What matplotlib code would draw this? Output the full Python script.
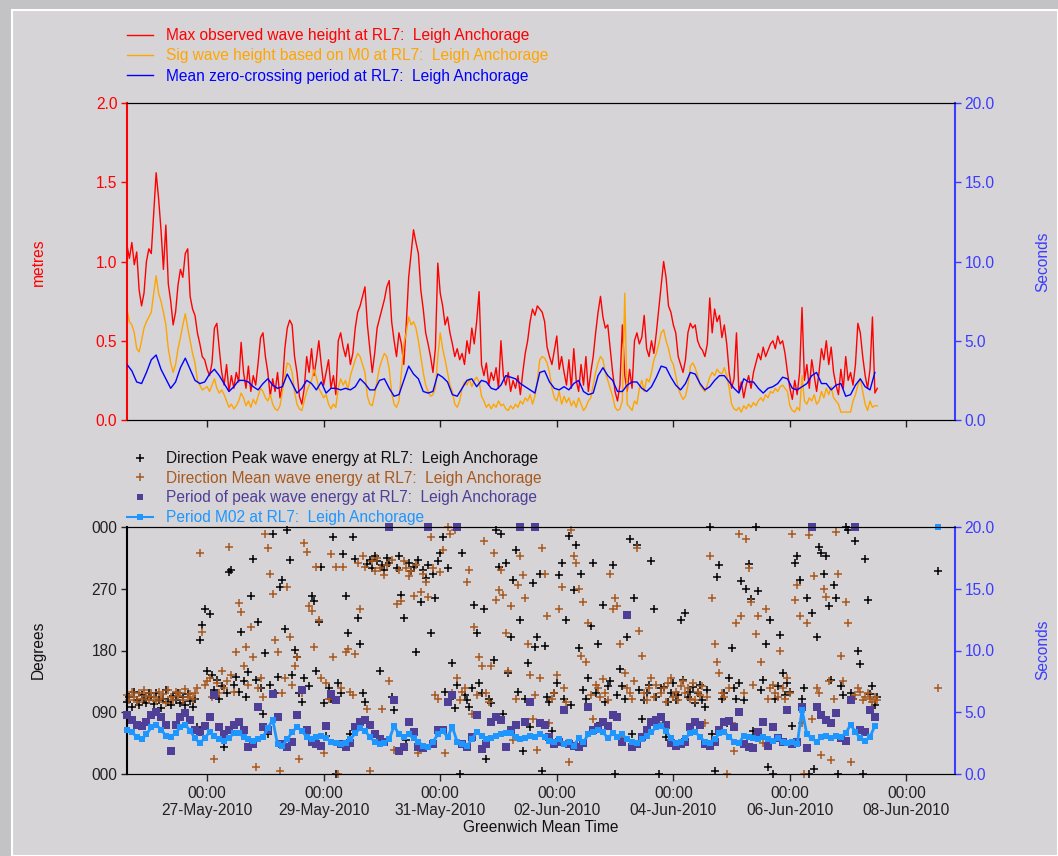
import numpy as np
import pandas as pd
import matplotlib
matplotlib.use('Agg')
import matplotlib.pyplot as plt
from matplotlib.lines import Line2D
from matplotlib.patches import Rectangle

plt.rcParams['font.family'] = ['Liberation Sans', 'DejaVu Sans']
plt.rcParams['font.size'] = 11.2

BG = '#d6d4d7'
RED = '#ff0000'
ORANGE = '#ffa500'
BLUE = '#0000ff'
RBLUE = '#3c3cff'
BROWN = '#a8591f'
PURPLE = '#4f3f96'
LBLUE = '#1e96ff'

# hourly / 2-hourly records starting 25-May-2010 15:00 GMT
start = '2010-05-25 15:00'
t_1h = pd.date_range(start, periods=310, freq='h')
t_2h = pd.date_range(start, periods=155, freq='2h')

# Max observed wave height (m), hourly
hmax = [
    1.10, 1.02, 1.12, 0.98, 1.06, 0.82, 0.72, 0.80, 1.00, 1.08,
    1.05, 1.30, 1.56, 1.40, 1.20, 0.95, 1.23, 0.86, 0.75, 0.60,
    0.68, 0.85, 0.95, 0.90, 1.05, 1.08, 0.78, 0.70, 0.66, 0.55,
    0.48, 0.40, 0.38, 0.32, 0.28, 0.36, 0.58, 0.61, 0.45, 0.30,
    0.22, 0.35, 0.18, 0.28, 0.20, 0.30, 0.24, 0.49, 0.30, 0.20,
    0.34, 0.18, 0.28, 0.22, 0.36, 0.52, 0.55, 0.40, 0.30, 0.15,
    0.26, 0.18, 0.30, 0.14, 0.22, 0.45, 0.58, 0.63, 0.60, 0.40,
    0.30, 0.15, 0.10, 0.20, 0.40, 0.30, 0.45, 0.28, 0.38, 0.50,
    0.35, 0.22, 0.30, 0.38, 0.20, 0.28, 0.16, 0.50, 0.55, 0.46,
    0.40, 0.48, 0.35, 0.42, 0.58, 0.68, 0.72, 0.78, 0.84, 0.60,
    0.45, 0.30, 0.42, 0.58, 0.64, 0.70, 0.76, 0.84, 0.88, 0.62,
    0.50, 0.40, 0.55, 0.48, 0.35, 0.60, 0.90, 1.05, 1.20, 1.12,
    1.05, 0.82, 0.70, 0.55, 0.48, 0.40, 0.30, 0.45, 0.99, 0.80,
    0.72, 0.60, 0.65, 0.55, 0.48, 0.40, 0.45, 0.38, 0.42, 0.35,
    0.50, 0.42, 0.58, 0.48, 0.62, 0.81, 0.35, 0.28, 0.36, 0.22,
    0.30, 0.25, 0.33, 0.20, 0.50, 0.28, 0.22, 0.30, 0.18, 0.25,
    0.20, 0.28, 0.16, 0.30, 0.42, 0.50, 0.62, 0.70, 0.66, 0.72,
    0.70, 0.68, 0.62, 0.46, 0.40, 0.35, 0.44, 0.53, 0.32, 0.40,
    0.30, 0.22, 0.38, 0.20, 0.45, 0.25, 0.18, 0.35, 0.22, 0.40,
    0.18, 0.30, 0.40, 0.55, 0.68, 0.78, 0.65, 0.58, 0.60, 0.45,
    0.30, 0.18, 0.12, 0.22, 0.60, 0.28, 0.18, 0.32, 0.20, 0.50,
    0.55, 0.48, 0.52, 0.66, 0.45, 0.40, 0.50, 0.42, 0.55, 0.70,
    0.85, 1.00, 0.90, 0.72, 0.68, 0.60, 0.55, 0.40, 0.35, 0.30,
    0.38, 0.55, 0.61, 0.58, 0.60, 0.50, 0.46, 0.44, 0.40, 0.48,
    0.77, 0.55, 0.70, 0.62, 0.66, 0.52, 0.60, 0.48, 0.30, 0.20,
    0.26, 0.55, 0.18, 0.24, 0.14, 0.22, 0.28, 0.20, 0.30, 0.36,
    0.42, 0.38, 0.46, 0.40, 0.44, 0.48, 0.50, 0.45, 0.53, 0.48,
    0.50, 0.42, 0.30, 0.20, 0.13, 0.25, 0.16, 0.30, 0.71, 0.25,
    0.35, 0.20, 0.38, 0.28, 0.18, 0.30, 0.45, 0.38, 0.50, 0.35,
    0.46, 0.30, 0.22, 0.16, 0.32, 0.20, 0.40, 0.25, 0.30, 0.22,
    0.35, 0.61, 0.55, 0.40, 0.28, 0.20, 0.32, 0.65, 0.17, 0.20,
]

# Sig wave height from M0 (m), hourly
hsig = [
    0.70, 0.62, 0.60, 0.55, 0.45, 0.43, 0.50, 0.58, 0.62, 0.65,
    0.68, 0.80, 0.91, 0.80, 0.75, 0.68, 0.60, 0.45, 0.36, 0.30,
    0.35, 0.45, 0.52, 0.60, 0.67, 0.58, 0.50, 0.42, 0.36, 0.25,
    0.22, 0.19, 0.20, 0.21, 0.18, 0.22, 0.26, 0.20, 0.17, 0.19,
    0.16, 0.12, 0.08, 0.10, 0.07, 0.09, 0.12, 0.17, 0.14, 0.09,
    0.12, 0.08, 0.13, 0.10, 0.15, 0.20, 0.18, 0.14, 0.12, 0.16,
    0.10, 0.07, 0.06, 0.09, 0.18, 0.28, 0.36, 0.35, 0.30, 0.18,
    0.10, 0.07, 0.06, 0.12, 0.18, 0.22, 0.25, 0.32, 0.27, 0.20,
    0.17, 0.14, 0.16, 0.10, 0.07, 0.10, 0.08, 0.20, 0.26, 0.22,
    0.25, 0.19, 0.28, 0.33, 0.38, 0.42, 0.40, 0.35, 0.30, 0.15,
    0.10, 0.09, 0.16, 0.25, 0.33, 0.38, 0.42, 0.40, 0.32, 0.17,
    0.10, 0.08, 0.12, 0.30, 0.48, 0.55, 0.65, 0.60, 0.62, 0.58,
    0.50, 0.40, 0.30, 0.22, 0.18, 0.15, 0.16, 0.20, 0.40, 0.55,
    0.45, 0.38, 0.30, 0.22, 0.18, 0.10, 0.08, 0.12, 0.20, 0.24,
    0.22, 0.26, 0.21, 0.25, 0.27, 0.24, 0.15, 0.12, 0.08, 0.10,
    0.07, 0.10, 0.08, 0.12, 0.09, 0.10, 0.07, 0.06, 0.09, 0.07,
    0.10, 0.08, 0.12, 0.10, 0.14, 0.12, 0.16, 0.10, 0.15, 0.25,
    0.38, 0.40, 0.39, 0.36, 0.30, 0.20, 0.14, 0.12, 0.18, 0.10,
    0.15, 0.11, 0.14, 0.09, 0.12, 0.08, 0.14, 0.10, 0.06, 0.08,
    0.12, 0.14, 0.22, 0.30, 0.36, 0.40, 0.38, 0.30, 0.25, 0.20,
    0.15, 0.08, 0.06, 0.07, 0.12, 0.80, 0.10, 0.08, 0.06, 0.12,
    0.10, 0.20, 0.25, 0.18, 0.26, 0.24, 0.30, 0.38, 0.42, 0.48,
    0.55, 0.57, 0.50, 0.45, 0.38, 0.35, 0.28, 0.20, 0.16, 0.13,
    0.15, 0.22, 0.34, 0.36, 0.33, 0.28, 0.22, 0.20, 0.18, 0.22,
    0.27, 0.30, 0.28, 0.32, 0.30, 0.29, 0.33, 0.28, 0.20, 0.10,
    0.07, 0.06, 0.08, 0.05, 0.09, 0.07, 0.10, 0.08, 0.11, 0.09,
    0.12, 0.14, 0.12, 0.16, 0.14, 0.18, 0.17, 0.20, 0.18, 0.21,
    0.22, 0.20, 0.18, 0.09, 0.06, 0.05, 0.08, 0.06, 0.28, 0.12,
    0.10, 0.14, 0.12, 0.16, 0.10, 0.12, 0.18, 0.14, 0.20, 0.16,
    0.21, 0.14, 0.12, 0.10, 0.05, 0.05, 0.05, 0.05, 0.05, 0.12,
    0.16, 0.22, 0.26, 0.18, 0.10, 0.06, 0.12, 0.08, 0.09, 0.09,
]

# Mean zero-crossing period (s), 2-hourly
tz = [
    3.5, 3.1, 2.4, 2.3, 3.0, 3.8, 4.1, 3.2, 2.6, 2.0,
    2.4, 3.3, 3.9, 3.2, 2.5, 2.3, 2.4, 2.9, 3.2, 2.8,
    2.3, 1.8, 2.1, 2.5, 2.5, 2.4, 2.1, 1.9, 2.3, 2.6,
    2.2, 2.0, 2.1, 2.9, 2.3, 1.7, 2.0, 2.5, 2.3, 1.9,
    2.4, 1.7, 2.0, 2.0, 1.9, 2.0, 1.9, 2.1, 2.6, 2.3,
    1.9, 1.9, 2.5, 2.6, 2.0, 1.5, 1.6, 2.5, 3.4, 2.9,
    2.6, 1.8, 1.7, 1.8, 2.9, 2.7, 2.4, 1.6, 1.5, 2.0,
    2.5, 2.6, 2.1, 2.5, 2.4, 2.0, 1.9, 2.2, 2.8, 2.7,
    2.6, 2.3, 2.1, 1.9, 1.7, 3.0, 3.1, 2.4, 2.0, 1.9,
    2.1, 1.9, 2.3, 2.5, 1.8, 1.6, 1.7, 2.8, 3.3, 2.8,
    2.5, 1.8, 1.8, 2.2, 2.4, 2.4, 2.0, 1.8, 2.1, 2.7,
    3.4, 3.3, 2.7, 2.2, 1.9, 2.3, 3.0, 2.9, 2.3, 1.9,
    2.1, 2.5, 2.8, 2.8, 2.4, 2.0, 1.7, 2.6, 2.4, 2.4,
    2.0, 1.7, 2.0, 2.1, 2.3, 2.7, 2.6, 2.0, 1.9, 2.1,
    2.3, 2.8, 3.0, 2.3, 2.3, 1.9, 2.2, 2.3, 1.5, 1.6,
    2.2, 2.6, 2.1, 1.9, 3.0,
]

# Direction of peak wave energy (deg), hourly
dir_peak = [
    105, 112, 98, 120, 108, 100, 115, 110, 104, 118,
    112, 102, 118, 108, 96, 110, 122, 105, 100, 114,
    108, 118, 104, 112, 100, 116, 106, 98, 110, 69,
    195, 217, 241, 150, 233, 145, 122, 137, 110, 128,
    40, 118, 295, 298, 130, 142, 120, 207, 135, 112,
    148, 260, 314, 137, 221, 125, 88, 176, 59, 130,
    350, 118, 142, 273, 283, 212, 355, 312, 144, 181,
    171, 118, 105, 140, 60, 128, 260, 252, 150, 221,
    302, 103, 55, 125, 110, 345, 0, 132, 118, 320,
    260, 206, 59, 345, 314, 228, 190, 118, 105, 306,
    312, 300, 318, 310, 150, 305, 298, 315, 308, 112,
    93, 300, 318, 261, 228, 49, 308, 296, 302, 178,
    312, 250, 298, 286, 305, 206, 292, 256, 310, 322,
    346, 120, 300, 110, 162, 96, 130, 0, 322, 115,
    108, 98, 125, 246, 206, 132, 118, 240, 22, 110,
    104, 166, 355, 302, 350, 88, 307, 147, 199, 283,
    326, 120, 225, 33, 110, 162, 69, 278, 185, 199,
    292, 5, 187, 112, 105, 63, 118, 132, 290, 308,
    110, 225, 347, 100, 268, 334, 183, 292, 122, 110,
    140, 215, 308, 118, 189, 75, 247, 105, 128, 135,
    305, 0, 115, 153, 128, 110, 200, 342, 59, 256,
    334, 122, 80, 108, 118, 130, 311, 240, 112, 0,
    125, 127, 54, 105, 118, 132, 108, 115, 225, 137,
    235, 112, 120, 127, 104, 118, 130, 108, 98, 122,
    360, 59, 5, 287, 305, 110, 118, 75, 140, 183,
    125, 110, 132, 282, 108, 270, 306, 255, 63, 360,
    266, 122, 137, 189, 10, 225, 0, 110, 128, 203,
    147, 115, 132, 120, 70, 308, 318, 283, 110, 125,
    256, 0, 235, 7, 200, 331, 322, 292, 318, 245,
    137, 276, 256, 0, 128, 115, 360, 355, 118, 110,
    339, 180, 160, 0, 313, 254, 116, 128, 100, 112,
]

# Direction of mean wave energy (deg), hourly
dir_mean = [
    115, 108, 120, 112, 105, 118, 110, 122, 114, 108,
    118, 112, 106, 120, 110, 116, 104, 122, 112, 108,
    120, 114, 118, 108, 124, 112, 116, 110, 118, 125,
    322, 207, 130, 135, 140, 112, 22, 132, 118, 150,
    126, 135, 331, 145, 120, 178, 249, 236, 157, 185,
    130, 214, 171, 10, 125, 140, 112, 350, 330, 292,
    263, 195, 178, 5, 118, 140, 273, 199, 130, 157,
    171, 22, 118, 336, 324, 245, 238, 185, 302, 225,
    140, 30, 132, 110, 320, 171, 302, 0, 125, 302,
    178, 182, 120, 115, 175, 308, 240, 318, 302, 95,
    5, 310, 296, 315, 300, 95, 290, 305, 136, 312,
    35, 248, 298, 252, 310, 300, 288, 296, 260, 305,
    30, 265, 292, 280, 258, 345, 300, 115, 110, 295,
    326, 30, 360, 350, 118, 355, 140, 108, 120, 125,
    280, 298, 88, 214, 115, 171, 157, 340, 118, 105,
    157, 322, 253, 268, 298, 261, 206, 150, 245, 49,
    110, 276, 318, 290, 256, 189, 145, 80, 115, 35,
    140, 329, 292, 231, 75, 110, 118, 145, 240, 272,
    125, 105, 17, 355, 318, 308, 269, 172, 251, 163,
    220, 115, 80, 130, 125, 112, 138, 118, 108, 292,
    240, 256, 245, 189, 54, 147, 125, 118, 110, 135,
    329, 209, 172, 118, 108, 125, 140, 112, 130, 75,
    118, 125, 105, 132, 140, 112, 120, 108, 128, 135,
    118, 125, 110, 132, 108, 120, 115, 128, 75, 112,
    318, 256, 189, 163, 147, 118, 112, 0, 125, 75,
    33, 220, 350, 230, 118, 342, 300, 250, 130, 204,
    231, 163, 45, 240, 110, 125, 130, 118, 112, 180,
    125, 110, 140, 118, 350, 254, 276, 231, 75, 0,
    220, 348, 80, 289, 125, 118, 28, 270, 258, 135,
    20, 110, 352, 292, 172, 135, 250, 220, 17, 110,
    115, 125, 120, 108, 112, 118, 110, 105, 112, 108,
]

# Period of peak wave energy (s), 2-hourly
tp = [
    4.8, 4.4, 4.0, 3.9, 4.2, 4.8, 5.0, 4.6, 4.0, 1.9,
    4.0, 4.6, 4.9, 4.4, 3.6, 3.4, 3.9, 4.6, 6.4, 3.8,
    3.2, 3.6, 4.0, 4.2, 3.6, 2.2, 2.4, 5.4, 3.8, 3.6,
    6.5, 4.6, 2.4, 2.2, 2.6, 4.8, 6.8, 3.6, 2.6, 2.4,
    2.3, 3.9, 6.5, 6.0, 2.4, 2.2, 2.5, 3.8, 4.2, 4.4,
    4.0, 3.2, 2.8, 2.6, 20.0, 6.0, 1.9, 2.2, 4.2, 3.4,
    2.2, 2.1, 20.0, 2.4, 3.6, 3.6, 5.8, 6.4, 20.0, 2.4,
    2.2, 3.0, 4.8, 2.0, 2.4, 4.2, 4.6, 4.4, 2.2, 3.6,
    4.0, 20.0, 4.2, 5.8, 20.0, 4.1, 4.0, 3.0, 2.4, 2.6,
    5.2, 2.4, 2.3, 2.2, 2.5, 5.4, 3.6, 3.8, 4.2, 3.9,
    4.8, 4.6, 2.6, 12.9, 2.2, 2.4, 3.0, 3.6, 4.2, 4.4,
    4.6, 4.0, 2.5, 2.3, 2.4, 2.6, 3.8, 4.2, 4.0, 2.4,
    2.3, 2.6, 3.6, 4.2, 4.3, 3.8, 5.0, 2.4, 2.2, 2.1,
    3.4, 4.2, 2.3, 3.8, 2.9, 2.6, 5.2, 2.4, 2.6, 5.4,
    2.1, 20.0, 5.4, 4.8, 4.4, 4.1, 4.9, 2.9, 2.7, 6.0,
    20.0, 3.6, 3.4, 5.2, 4.6,
]

# Period M02 (s), 2-hourly
tm02 = [
    3.6, 3.4, 3.0, 2.8, 3.2, 3.8, 4.0, 3.6, 3.1, 3.0,
    3.3, 3.8, 4.0, 3.5, 2.9, 2.5, 2.9, 3.4, 3.1, 2.8,
    2.7, 2.9, 3.3, 3.3, 3.0, 2.8, 2.7, 2.8, 3.0, 3.7,
    4.4, 2.4, 2.3, 2.8, 3.4, 3.8, 3.5, 3.0, 2.8, 3.0,
    3.1, 2.9, 2.6, 2.5, 2.4, 2.5, 2.8, 3.3, 3.7, 3.5,
    3.0, 2.6, 2.4, 2.5, 2.8, 3.9, 3.2, 3.0, 3.2, 2.9,
    2.6, 2.3, 2.2, 2.6, 3.2, 3.5, 3.0, 3.8, 2.6, 2.4,
    2.3, 2.8, 3.4, 3.1, 2.8, 2.9, 3.1, 3.2, 3.3, 3.3,
    3.0, 2.8, 2.9, 3.1, 3.0, 3.2, 3.0, 2.7, 2.6, 2.8,
    2.4, 2.6, 2.3, 2.9, 2.6, 3.2, 3.4, 3.6, 3.4, 2.9,
    3.3, 3.0, 3.2, 2.8, 2.6, 2.5, 2.8, 3.1, 3.4, 3.8,
    3.9, 3.5, 2.9, 2.5, 2.6, 2.9, 3.3, 3.4, 3.0, 2.6,
    2.5, 2.8, 3.3, 3.4, 3.0, 2.6, 2.5, 3.1, 3.0, 2.9,
    2.8, 3.0, 2.8, 2.7, 2.9, 2.6, 2.5, 2.6, 2.4, 5.2,
    3.2, 2.9, 2.6, 3.0, 3.1, 2.9, 3.1, 3.0, 3.3, 4.0,
    3.4, 2.9, 2.7, 3.0, 3.9,
]

# isolated records after the main series
t_late = pd.to_datetime(['2010-06-08 13:00'])
dir_peak_late = [296]
dir_mean_late = [125]
tm02_late = [20.0]

major_days = pd.date_range('2010-05-27', '2010-06-08', freq='2D')
x0 = pd.Timestamp('2010-05-25 15:00')
x1 = pd.Timestamp('2010-06-08 20:00')

W, H = 1058, 856
fig = plt.figure(figsize=(W / 100, H / 100), dpi=100, facecolor='#c3c2c5')
fig.patches.append(Rectangle((12 / W, 0), 1 - 12 / W, 1 - 10 / H, transform=fig.transFigure,
                             facecolor=BG, edgecolor='white', lw=1.5, zorder=-10))


def px(x, y):
    return x / W, 1 - y / H


def style_axes(ax, axr, left_col, right_col):
    ax.set_facecolor(BG)
    ax.spines['right'].set_visible(False)
    axr.spines['left'].set_visible(False)
    ax.spines['left'].set_color(left_col)
    axr.spines['right'].set_color(right_col)
    axr.spines['right'].set_linewidth(1.5)
    ax.spines['left'].set_linewidth(1.5)
    ax.tick_params(axis='y', colors=left_col, length=4, width=1, pad=3)
    axr.tick_params(axis='y', colors=right_col, length=4, width=1, pad=3)
    ax.tick_params(axis='x', length=5, width=1, colors='#222222')
    ax.set_xlim(x0, x1)
    ax.set_xticks(major_days)
    axr.set_ylim(0, 20)
    axr.set_yticks([0, 5, 10, 15, 20])
    axr.set_yticklabels(['%.1f' % v for v in [0, 5, 10, 15, 20]])


# ---- top panel: wave heights and Tz
ax1 = fig.add_axes([127 / W, 1 - 420 / H, 828 / W, 317 / H])
ax1.plot(t_1h, hmax, color=RED, lw=1)
ax1.plot(t_1h, hsig, color=ORANGE, lw=1)
ax1.set_ylim(0, 2)
ax1.set_yticks([0, 0.5, 1.0, 1.5, 2.0])
ax1.set_yticklabels(['0.0', '0.5', '1.0', '1.5', '2.0'])
ax1r = ax1.twinx()
ax1r.plot(t_2h, tz, color=BLUE, lw=1)
style_axes(ax1, ax1r, RED, RBLUE)
ax1.set_xticklabels([])

top_handles = [Line2D([], [], color=RED, lw=1),
               Line2D([], [], color=ORANGE, lw=1),
               Line2D([], [], color=BLUE, lw=1)]
top_labels = ['Max observed wave height at RL7:  Leigh Anchorage',
              'Sig wave height based on M0 at RL7:  Leigh Anchorage',
              'Mean zero-crossing period at RL7:  Leigh Anchorage']
fig.legend(top_handles, top_labels, loc='upper left', bbox_to_anchor=px(127, 28),
           frameon=False, borderpad=0, borderaxespad=0, handlelength=1.7,
           handletextpad=0.8, labelspacing=0.34, labelcolor=[RED, ORANGE, BLUE])

# ---- bottom panel: directions and periods
ax2 = fig.add_axes([127 / W, 1 - 774 / H, 828 / W, 247 / H])
ax2.plot(t_1h, dir_peak, '+', color='black', ms=6, mew=1.1, clip_on=False)
ax2.plot(t_1h, dir_mean, '+', color=BROWN, ms=6, mew=1.1, clip_on=False)
ax2.plot(t_late, dir_peak_late, '+', color='black', ms=6, mew=1.1)
ax2.plot(t_late, dir_mean_late, '+', color=BROWN, ms=6, mew=1.1)
ax2.set_ylim(0, 360)
ax2.set_yticks([0, 90, 180, 270, 360])
ax2.set_yticklabels(['000', '090', '180', '270', '000'])
ax2r = ax2.twinx()
ax2r.plot(t_2h, tp, 's', color=PURPLE, ms=5.2, mew=0, clip_on=False)
ax2r.plot(t_2h, tm02, '-s', color=LBLUE, ms=4.6, mew=0, lw=2, clip_on=False)
ax2r.plot(t_late, tm02_late, 's', color=LBLUE, ms=4.6, mew=0, clip_on=False)
style_axes(ax2, ax2r, 'black', RBLUE)
ax2.tick_params(axis='y', colors='#222222')
ax2.set_xticklabels([d.strftime('00:00\n%d-%b-%Y') for d in major_days], linespacing=1.2)

bot_handles = [Line2D([], [], ls='none', marker='+', color='black', ms=6, mew=1.1),
               Line2D([], [], ls='none', marker='+', color=BROWN, ms=6, mew=1.1),
               Line2D([], [], ls='none', marker='s', color=PURPLE, ms=4.6, mew=0),
               Line2D([], [], color=LBLUE, marker='s', ms=4, mew=0, lw=1.5)]
bot_labels = ['Direction Peak wave energy at RL7:  Leigh Anchorage',
              'Direction Mean wave energy at RL7:  Leigh Anchorage',
              'Period of peak wave energy at RL7:  Leigh Anchorage',
              'Period M02 at RL7:  Leigh Anchorage']
fig.legend(bot_handles, bot_labels, loc='upper left', bbox_to_anchor=px(127, 451),
           frameon=False, borderpad=0, borderaxespad=0, handlelength=1.7,
           handletextpad=0.8, labelspacing=0.3,
           labelcolor=['#111111', BROWN, PURPLE, LBLUE])

# axis titles
fig.text(*px(38, 262), 'metres', color=RED, rotation=90, ha='center', va='center')
fig.text(*px(1043, 262), 'Seconds', color=RBLUE, rotation=90, ha='center', va='center')
fig.text(*px(38, 650), 'Degrees', color='#111111', rotation=90, ha='center', va='center')
fig.text(*px(1043, 650), 'Seconds', color=RBLUE, rotation=90, ha='center', va='center')
fig.text(*px(541, 828), 'Greenwich Mean Time', color='#111111', ha='center', va='center')

fig.savefig('out.png', dpi=100, facecolor=fig.get_facecolor())
